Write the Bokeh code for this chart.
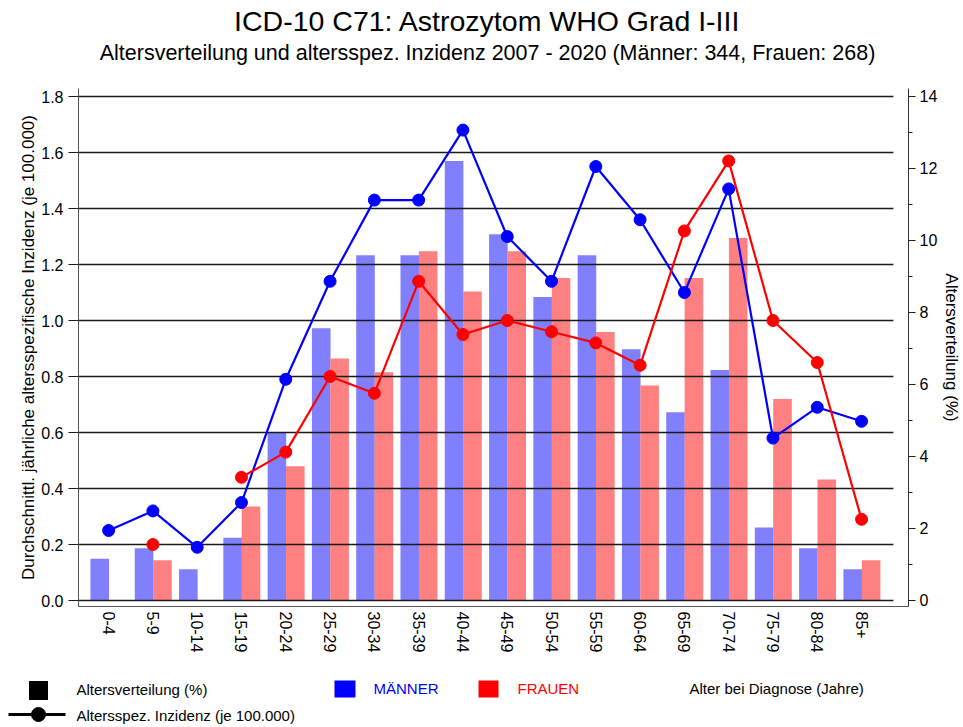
import math
import numpy as np
from bokeh.plotting import figure
from bokeh.models import Range1d, LinearAxis, FixedTicker, PrintfTickFormatter, Title
from bokeh.embed import file_html
from bokeh.resources import INLINE
from bokeh.core.properties import value

FONT = "Liberation Sans"
W = 963

title_text = "ICD-10 C71: Astrozytom WHO Grad I-III"
subtitle_text = "Altersverteilung und altersspez. Inzidenz 2007 - 2020 (Männer: 344, Frauen: 268)"

age_groups = ["0-4", "5-9", "10-14", "15-19", "20-24", "25-29", "30-34", "35-39", "40-44",
              "45-49", "50-54", "55-59", "60-64", "65-69", "70-74", "75-79", "80-84", "85+"]

# Altersspez. Inzidenz (je 100.000) - left axis
inz_maenner = [0.25, 0.32, 0.19, 0.35, 0.79, 1.14, 1.43, 1.43, 1.68, 1.30,
               1.14, 1.55, 1.36, 1.10, 1.47, 0.58, 0.69, 0.64]
inz_frauen = [float("nan"), 0.20, float("nan"), 0.44, 0.53, 0.80, 0.74, 1.14, 0.95, 1.00,
              0.96, 0.92, 0.84, 1.32, 1.57, 1.00, 0.85, 0.29]

# Altersverteilung (%) - right axis
pct_maenner = [1.16, 1.45, 0.87, 1.74, 4.65, 7.56, 9.59, 9.59, 12.21, 10.17,
               8.43, 9.59, 6.98, 5.23, 6.40, 2.03, 1.45, 0.87]
pct_frauen = [0.0, 1.12, 0.0, 2.61, 3.73, 6.72, 6.34, 9.70, 8.58, 9.70,
              8.96, 7.46, 5.97, 8.96, 10.07, 5.60, 3.36, 1.12]

left_ticks = [0.0, 0.2, 0.4, 0.6, 0.8, 1.0, 1.2, 1.4, 1.6, 1.8]
right_ticks = [0, 2, 4, 6, 8, 10, 12, 14]
right_minor = [1, 3, 5, 7, 9, 11, 13]

BLUE_BAR = "#8080FF"
RED_BAR = "#FF8080"
BLUE = "#0000FF"
RED = "#FF0000"

x = np.arange(len(age_groups), dtype=float)


def blank_fig(height):
    f = figure(width=W, height=height, x_range=Range1d(0, W), y_range=Range1d(height, 0),
               toolbar_location=None, output_backend="svg", min_border=0,
               x_axis_type=None, y_axis_type=None, outline_line_color=None)
    f.xgrid.visible = False
    f.ygrid.visible = False
    return f


# ---- header ----
head = blank_fig(80)
head.text(x=[487], y=[20], text=[title_text], text_font=value(FONT), text_font_size="28.5px",
          text_align="center", text_baseline="middle", text_color="black")
head.text(x=[487], y=[52], text=[subtitle_text], text_font=value(FONT), text_font_size="21.5px",
          text_align="center", text_baseline="middle", text_color="black")

# ---- main chart ----
p = figure(width=W, height=588, x_range=Range1d(-0.68, 18.06), y_range=Range1d(-0.0214, 1.8286),
           toolbar_location=None, output_backend="svg",
           min_border_left=78, min_border_right=55, min_border_top=8, min_border_bottom=62,
           outline_line_color=None)
p.extra_y_ranges = {"pct": Range1d(-0.1667, 14.222)}
p.xgrid.visible = False
p.ygrid.visible = False

p.vbar(x=x - 0.2, top=pct_maenner, width=0.42, y_range_name="pct",
       fill_color=BLUE_BAR, line_color=None)
p.vbar(x=x + 0.215, top=pct_frauen, width=0.42, y_range_name="pct",
       fill_color=RED_BAR, line_color=None)

# horizontal grid lines drawn above the bars
p.segment(x0=-0.68, x1=17.72, y0=left_ticks, y1=left_ticks, line_color="#1a1a1a", line_width=1.4)

p.line(x, inz_maenner, line_color=BLUE, line_width=2.2)
p.scatter(x, inz_maenner, size=12, fill_color=BLUE, line_color=BLUE)
p.line(x, inz_frauen, line_color=RED, line_width=2.2)
p.scatter(x, inz_frauen, size=12, fill_color=RED, line_color=RED)

ya = p.yaxis[0]
ya.ticker = FixedTicker(ticks=left_ticks)
ya.formatter = PrintfTickFormatter(format="%.1f")
ya.axis_label = "Durchschnittl. jährliche altersspezifische Inzidenz (je 100.000)"
ya.axis_label_text_font = FONT
ya.axis_label_text_font_size = "17px"
ya.axis_label_text_font_style = "normal"
ya.axis_label_text_color = "black"
ya.axis_label_standoff = 0
ya.major_label_text_font = FONT
ya.major_label_text_font_size = "16px"
ya.major_label_text_color = "black"
ya.major_label_standoff = 5
ya.major_tick_out = 10
ya.major_tick_in = 0
ya.minor_tick_out = 0
ya.minor_tick_in = 0
ya.axis_line_color = "#555555"
ya.major_tick_line_color = "#1a1a1a"

ra = LinearAxis(y_range_name="pct", ticker=FixedTicker(ticks=right_ticks, minor_ticks=right_minor))
ra.major_label_text_font = FONT
ra.major_label_text_font_size = "16px"
ra.major_label_text_color = "black"
ra.major_label_standoff = 4
ra.major_tick_out = 7
ra.major_tick_in = 0
ra.minor_tick_out = 4
ra.minor_tick_in = 0
ra.axis_line_color = "#333333"
ra.major_tick_line_color = "#1a1a1a"
ra.minor_tick_line_color = "#1a1a1a"
p.add_layout(ra, "right")

# right-hand axis title
p.add_layout(Title(text="Altersverteilung (%)", align="center", text_font=FONT,
                   text_font_size="17px", text_font_style="normal", text_color="black",
                   standoff=2), "right")

xa = p.xaxis[0]
xa.ticker = FixedTicker(ticks=list(range(len(age_groups))))
xa.major_label_overrides = {i: lab for i, lab in enumerate(age_groups)}
xa.major_label_orientation = -math.pi / 2
xa.major_label_text_font = FONT
xa.major_label_text_font_size = "16px"
xa.major_label_text_color = "black"
xa.major_label_standoff = 5
xa.major_tick_out = 0
xa.major_tick_in = 0
xa.minor_tick_out = 0
xa.minor_tick_in = 0
xa.axis_line_color = "#555555"

# ---- legend ----
LF = "15px"
leg = blank_fig(59)
leg.rect(x=[38], y=[22], width=19, height=19, fill_color="black", line_color=None)
leg.text(x=[76], y=[21], text=["Altersverteilung (%)"], text_font=value(FONT), text_font_size=LF,
         text_baseline="middle", text_color="black")
leg.line(x=[8, 65], y=[46, 46], line_color="black", line_width=3)
leg.scatter(x=[38], y=[46], size=14, fill_color="black", line_color="black")
leg.text(x=[76], y=[47], text=["Altersspez. Inzidenz (je 100.000)"], text_font=value(FONT),
         text_font_size=LF, text_baseline="middle", text_color="black")
leg.rect(x=[344.5], y=[20.5], width=21, height=17, fill_color=BLUE, line_color=None)
leg.text(x=[373], y=[20], text=["MÄNNER"], text_font=value(FONT), text_font_size=LF,
         text_baseline="middle", text_color=BLUE)
leg.rect(x=[488], y=[20.5], width=20, height=17, fill_color=RED, line_color=None)
leg.text(x=[517], y=[20], text=["FRAUEN"], text_font=value(FONT), text_font_size=LF,
         text_baseline="middle", text_color=RED)
leg.text(x=[689], y=[20], text=["Alter bei Diagnose (Jahre)"], text_font=value(FONT),
         text_font_size=LF, text_baseline="middle", text_color="black")

open("out.html", "w").write(file_html([head, p, leg], INLINE))
